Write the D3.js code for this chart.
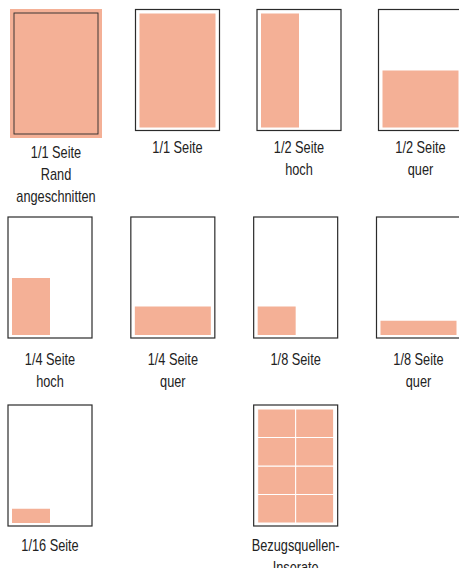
<!DOCTYPE html>
<meta charset="utf-8">
<style>
  body { margin: 0; background: #fff; }
  .frame { fill: #fff; stroke: #2b2b2b; stroke-width: 1.2px; }
  .ad { fill: #f4b096; }
  .cell { stroke: #fff; stroke-width: 1px; }
  .label { font-family: "Liberation Sans", sans-serif; font-size: 17px; fill: #222; text-anchor: middle; }
</style>
<body>
<script src="https://d3js.org/d3.v7.min.js"></script>
<script>
  // ad formats
  var labels = [
    ["1/1 Seite", "Rand", "angeschnitten"],
    ["1/1 Seite"],
    ["1/2 Seite", "hoch"],
    ["1/2 Seite", "quer"],
    ["1/4 Seite", "hoch"],
    ["1/4 Seite", "quer"],
    ["1/8 Seite"],
    ["1/8 Seite", "quer"],
    ["1/16 Seite"],
    ["Bezugsquellen-", "Inserate"]
  ];
  // share of page width / height taken by the ad
  var widthShare = [1, 1, 0.5, 1, 0.5, 1, 0.5, 1, 0.5, 1];
  var heightShare = [1, 1, 1, 0.5, 0.5, 0.25, 0.25, 0.125, 0.125, 1];
  var bleed = [true, false, false, false, false, false, false, false, false, false];
  var gridCols = [1, 1, 1, 1, 1, 1, 1, 1, 1, 2];
  var gridRows = [1, 1, 1, 1, 1, 1, 1, 1, 1, 4];
  // slot in the 4-column layout
  var slot = [0, 1, 2, 3, 4, 5, 6, 7, 8, 10];

  var width = 459, height = 568;
  var pageW = 84, pageH = 121;
  var inset = {left: 4, right: 4, top: 4, bottom: 3};
  var bleedPad = 4;
  var squeeze = 0.75; // condensed look for the labels

  var svg = d3.select("body").append("svg")
    .attr("width", width)
    .attr("height", height);

  // column centre per row
  var colX = [
    d3.scalePoint().domain([0, 1, 2, 3]).range([56, 420.5]),
    d3.scalePoint().domain([0, 1, 2, 3]).range([50, 418.5]),
    d3.scalePoint().domain([0, 1, 2, 3]).range([50, 418.5])
  ];
  var rowTop = d3.scaleOrdinal().domain([0, 1, 2]).range([9.5, 217, 405]);
  var rowLabel = d3.scaleOrdinal().domain([0, 1, 2]).range([153, 365, 551]);

  // scales inside a page
  var x = d3.scaleLinear().domain([0, 1]).range([0, pageW - inset.left - inset.right]);
  var y = d3.scaleLinear().domain([0, 1]).range([pageH - inset.top - inset.bottom, 0]);

  var data = labels.map(function(l, i) {
    return {
      label: l, w: widthShare[i], h: heightShare[i], bleed: bleed[i],
      cols: gridCols[i], rows: gridRows[i],
      row: Math.floor(slot[i] / 4), col: slot[i] % 4
    };
  });

  var panel = svg.selectAll(".panel")
    .data(data)
    .enter().append("g")
    .attr("class", "panel")
    .attr("transform", function(d) {
      var shift = d.bleed ? 3.5 : 0;
      return "translate(" + (colX[d.row](d.col) - pageW / 2) + "," + (rowTop(d.row) + shift) + ")";
    });

  // bleed background
  panel.filter(function(d) { return d.bleed; })
    .append("rect")
    .attr("class", "ad")
    .attr("x", -bleedPad)
    .attr("y", -bleedPad)
    .attr("width", pageW + bleedPad * 2)
    .attr("height", pageH + bleedPad * 2);

  panel.append("rect")
    .attr("class", "frame")
    .attr("x", 0)
    .attr("y", 0)
    .attr("width", pageW)
    .attr("height", pageH)
    .style("fill", function(d) { return d.bleed ? "none" : "#fff"; })
    .style("stroke-width", function(d) { return d.bleed ? 0.9 : null; });

  // the ad area (cells)
  panel.filter(function(d) { return !d.bleed; })
    .each(function(d) {
      var g = d3.select(this).append("g")
        .attr("transform", "translate(" + inset.left + "," + inset.top + ")");
      var cells = [];
      for (var r = 0; r < d.rows; r++)
        for (var c = 0; c < d.cols; c++) cells.push({r: r, c: c});
      var cw = d.w / d.cols, ch = d.h / d.rows;
      g.selectAll("rect")
        .data(cells)
        .enter().append("rect")
        .attr("class", function() { return d.cols > 1 ? "ad cell" : "ad"; })
        .attr("x", function(e) { return x(e.c * cw); })
        .attr("width", x(cw) - x(0))
        .attr("y", function(e) { return y((e.r + 1) * ch); })
        .attr("height", y(0) - y(ch));
    });

  // labels
  panel.append("text")
    .attr("class", "label")
    .attr("transform", function(d) {
      var ty = rowLabel(d.row) - rowTop(d.row) + (d.bleed ? 1.5 : 0);
      return "translate(" + pageW / 2 + "," + ty + ") scale(" + squeeze + ",1)";
    })
    .selectAll("tspan")
    .data(function(d) { return d.label; })
    .enter().append("tspan")
    .attr("x", 0)
    .attr("dy", function(t, i) { return i ? 22 : 0; })
    .text(function(t) { return t; });
</script>
</body>
